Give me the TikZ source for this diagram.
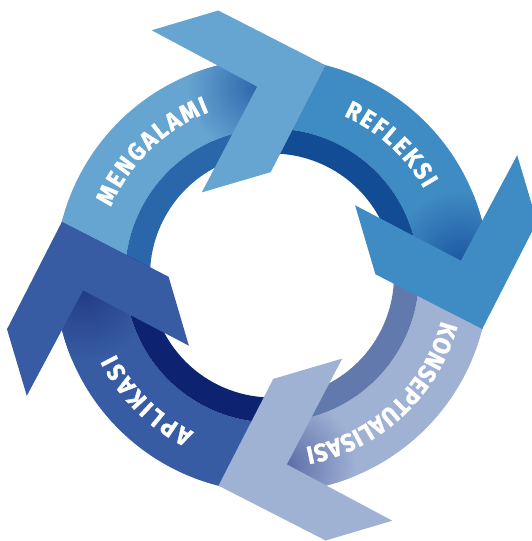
\documentclass[tikz,border=0pt]{standalone}
\usepackage{fontspec}
\newfontfamily\lblfont[FakeStretch=0.92,BoldFeatures={FakeBold=1.2}]{Fira Sans}
\usetikzlibrary{decorations.text}

% palette: band, inner ring, shadow near the arrow notch
\definecolor{mgBand}{HTML}{66A4D1}
\definecolor{mgInner}{HTML}{2A67AA}
\definecolor{mgShade}{HTML}{2E66AB}
\definecolor{rfBand}{HTML}{3F8BC3}
\definecolor{rfInner}{HTML}{114C94}
\definecolor{rfShade}{HTML}{1C58A2}
\definecolor{kpBand}{HTML}{A0B2D4}
\definecolor{kpInner}{HTML}{6279AE}
\definecolor{kpShade}{HTML}{5C6DA8}
\definecolor{apBand}{HTML}{375CA3}
\definecolor{apInner}{HTML}{0D2270}
\definecolor{apShade}{HTML}{223C86}

\newcommand\stagefont{\lblfont\bfseries\fontsize{25}{28}\selectfont}

% one quarter of the ring: outer band, inner ring, shadow
\newcommand\ringsegment[4]{%
  \begin{scope}[rotate=#1]
    \fill[#2] (167.7:217) arc[start angle=167.7,end angle=75.7,radius=217]
      -- (82:147) arc[start angle=82,end angle=174,radius=147] -- cycle;
    \fill[#3] (174:147) arc[start angle=174,end angle=82,radius=147]
      -- (86.2:122) arc[start angle=86.2,end angle=178.2,radius=122] -- cycle;
    \begin{scope}
      \clip (167.7:217) arc[start angle=167.7,end angle=75.7,radius=217]
        -- (82:147) arc[start angle=82,end angle=174,radius=147] -- cycle;
      \shade[inner color=#4, outer color=#2] (-14.8,188.9) circle (70);
    \end{scope}
  \end{scope}}

% chevron arrow head closing a quarter
\newcommand\ringchevron[2]{%
  \fill[#2, rotate=#1] (-120.3,245.2) -- (-53.7,265) -- (53.5,210.2)
    -- (-1.25,103.4) -- (-70.2,83.1) -- (-14.8,188.9) -- cycle;}

\tikzset{stagelabel/.style={decorate, decoration={text along path,
  text color=white, text align={fit to path}}}}

\begin{document}
\begin{tikzpicture}[x=1pt,y=1pt]
\useasboundingbox (-272,-265.5) rectangle (260,275.5);
\clip (-272,-265.5) rectangle (260,275.5);

\ringsegment{0}{mgBand}{mgInner}{mgShade}
\ringsegment{-90}{rfBand}{rfInner}{rfShade}
\ringsegment{-180}{kpBand}{kpInner}{kpShade}
\ringsegment{-270}{apBand}{apInner}{apShade}

\ringchevron{0}{mgBand}
\ringchevron{-90}{rfBand}
\ringchevron{-180}{kpBand}
\ringchevron{-270}{apBand}

\path[stagelabel, decoration={text={|\stagefont|MENGALAMI}}]
  (157:175) arc[start angle=157,end angle=111,radius=175];
\path[stagelabel, decoration={text={|\stagefont|REFLEKSI}}]
  (65.8:175) arc[start angle=65.8,end angle=29.7,radius=175];
\path[stagelabel, decoration={text={|\stagefont|KONSEPTUALISASI}}]
  (-15:175) arc[start angle=-15,end angle=-79,radius=175];
\path[stagelabel, decoration={text={|\stagefont|APLIKASI}}]
  (-116.6:175) arc[start angle=-116.6,end angle=-153.4,radius=175];
\end{tikzpicture}
\end{document}
